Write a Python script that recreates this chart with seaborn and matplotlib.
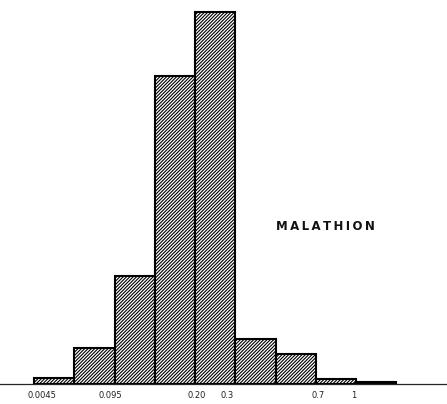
import matplotlib
matplotlib.use('Agg')
import numpy as np
import pandas as pd
import seaborn as sns
import matplotlib.pyplot as plt

# relative frequency (%) per class, classes of equal width on the drawing
freq = [0.7, 4.0, 11.8, 33.8, 40.8, 4.9, 3.3, 0.55, 0.17]
edge_labels = ['0.0045', '0.095', '0.20', '0.3', '0.7', '1']
edge_pos = [0.2, 1.9, 4.05, 4.8, 7.05, 7.95]
label = 'MALATHION'

df = pd.DataFrame({'cls': np.arange(len(freq)) + 0.5, 'freq': freq})

sns.set_style('white')
plt.rcParams['hatch.linewidth'] = 0.8
fig = plt.figure(figsize=(4.47, 4.04), dpi=100)
ax = fig.add_axes([0, 20 / 404, 1, 384 / 404])

sns.histplot(data=df, x='cls', weights='freq', bins=list(range(len(freq) + 1)),
             color='white', edgecolor='black', linewidth=1.5, alpha=1, ax=ax)
for p in ax.patches:
    p.set_hatch('//////////')

ax.set_xlim(-0.845, 10.26)
ax.set_ylim(0, 42.1)
for s in ['top', 'left', 'right']:
    ax.spines[s].set_visible(False)
ax.spines['bottom'].set_linewidth(0.9)
ax.set_yticks([])
ax.set_xticks(edge_pos)
ax.set_xticklabels(edge_labels, fontsize=6, color='#222222')
ax.tick_params(axis='x', length=0, pad=5)
ax.set_xlabel('')
ax.set_ylabel('')

ax.text(6.0, 17.3, ' '.join(label).replace(' ', '\u2009'), fontsize=8.5,
        fontweight='semibold', color='#111111', va='center', ha='left')

fig.savefig('out.png', dpi=100)
